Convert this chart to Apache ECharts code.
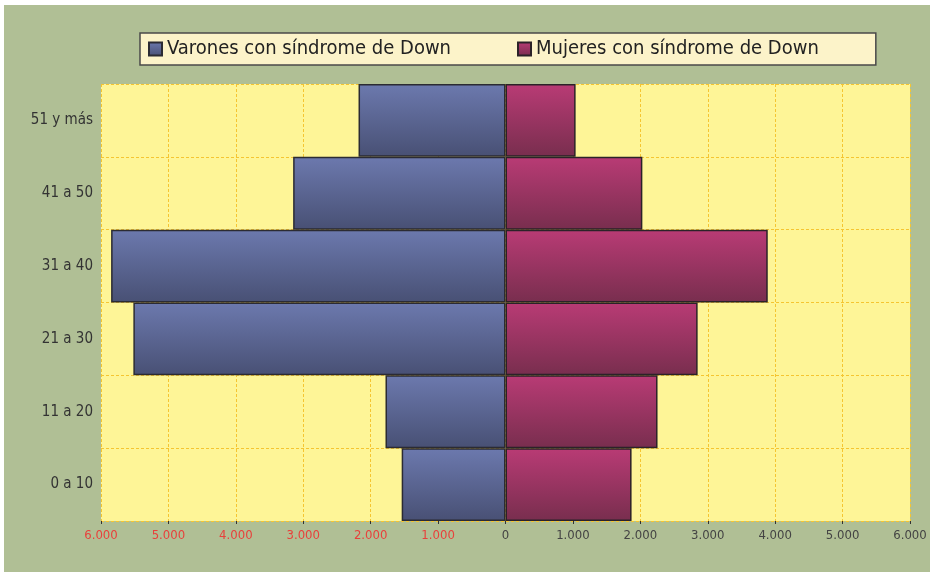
<!DOCTYPE html>
<html>
<head>
<meta charset="utf-8">
<script src="https://cdn.jsdelivr.net/npm/echarts@6/dist/echarts.min.js"></script>
<style>
  html, body { margin: 0; padding: 0; background: #ffffff; }
  #wrap { position: absolute; left: 4px; top: 5px; width: 926px; height: 567px; background: #b0bf95; }
  #chart { position: absolute; left: -4px; top: -5px; width: 930px; height: 572px; }
</style>
</head>
<body>
<div id="wrap"><div id="chart"></div></div>
<script>
// grupos de edad, de abajo arriba
const categories = ['0 a 10', '11 a 20', '21 a 30', '31 a 40', '41 a 50', '51 y más']
const varones = [1540, 1780, 5520, 5850, 3150, 2180]
const mujeres = [1870, 2255, 2850, 3890, 2030, 1040]
const tickValues = [-6000, -5000, -4000, -3000, -2000, -1000, 0, 1000, 2000, 3000, 4000, 5000, 6000]

const FONT = '"DejaVu Sans Condensed", "Liberation Sans", sans-serif'

function fmt(v) {
  const n = Math.abs(v)
  return n >= 1000 ? Math.floor(n / 1000) + '.' + String(n % 1000).padStart(3, '0') : String(n)
}

const myChart = echarts.init(document.getElementById('chart'))

const option = {
  backgroundColor: 'transparent',
  animation: false,
  legend: {
    left: 140,
    top: 33,
    padding: [6, 57, 6, 8],
    backgroundColor: '#fcf3c9',
    borderColor: '#4a4a4a',
    borderWidth: 1.5,
    icon: 'rect',
    itemWidth: 13,
    itemHeight: 13,
    itemGap: 66,
    textStyle: { fontFamily: FONT, fontSize: 20, color: '#222' },
    data: ['Varones con síndrome de Down', 'Mujeres con síndrome de Down']
  },
  grid: {
    left: 101,
    right: 20,
    top: 84,
    bottom: 51,
    show: true,
    backgroundColor: '#fef597',
    borderWidth: 0
  },
  xAxis: {
    type: 'value',
    min: tickValues[0],
    max: tickValues[tickValues.length - 1],
    interval: 1000,
    axisLine: { show: false },
    axisTick: { show: true, length: 3, lineStyle: { color: '#333' } },
    splitLine: { show: true, lineStyle: { color: '#f5c531', type: [3, 2], width: 1 } },
    axisLabel: {
      fontFamily: FONT,
      fontSize: 13,
      margin: 8,
      formatter: fmt,
      color: function (v) { return v < 0 ? '#e8413c' : '#444' }
    }
  },
  yAxis: {
    type: 'category',
    data: categories,
    axisLine: { show: false },
    axisTick: { show: false },
    splitLine: { show: true, lineStyle: { color: '#f5c531', type: [3, 2], width: 1 } },
    axisLabel: { fontFamily: FONT, fontSize: 15, color: '#333', margin: 8 }
  },
  series: [
    {
      name: 'Varones con síndrome de Down',
      type: 'bar',
      stack: 'total',
      barCategoryGap: '0%',
      itemStyle: {
        borderColor: '#2b2b33',
        borderWidth: 1.5,
        color: {
          type: 'linear', x: 0, y: 0, x2: 0, y2: 1,
          colorStops: [
            { offset: 0, color: '#6c79ae' },
            { offset: 1, color: '#485074' }
          ]
        }
      },
      data: varones.map(v => -v)
    },
    {
      name: 'Mujeres con síndrome de Down',
      type: 'bar',
      stack: 'total',
      barCategoryGap: '0%',
      itemStyle: {
        borderColor: '#2b2228',
        borderWidth: 1.5,
        color: {
          type: 'linear', x: 0, y: 0, x2: 0, y2: 1,
          colorStops: [
            { offset: 0, color: '#b93b75' },
            { offset: 1, color: '#782e4e' }
          ]
        }
      },
      data: mujeres
    }
  ]
}

myChart.setOption(option)
</script>
</body>
</html>
